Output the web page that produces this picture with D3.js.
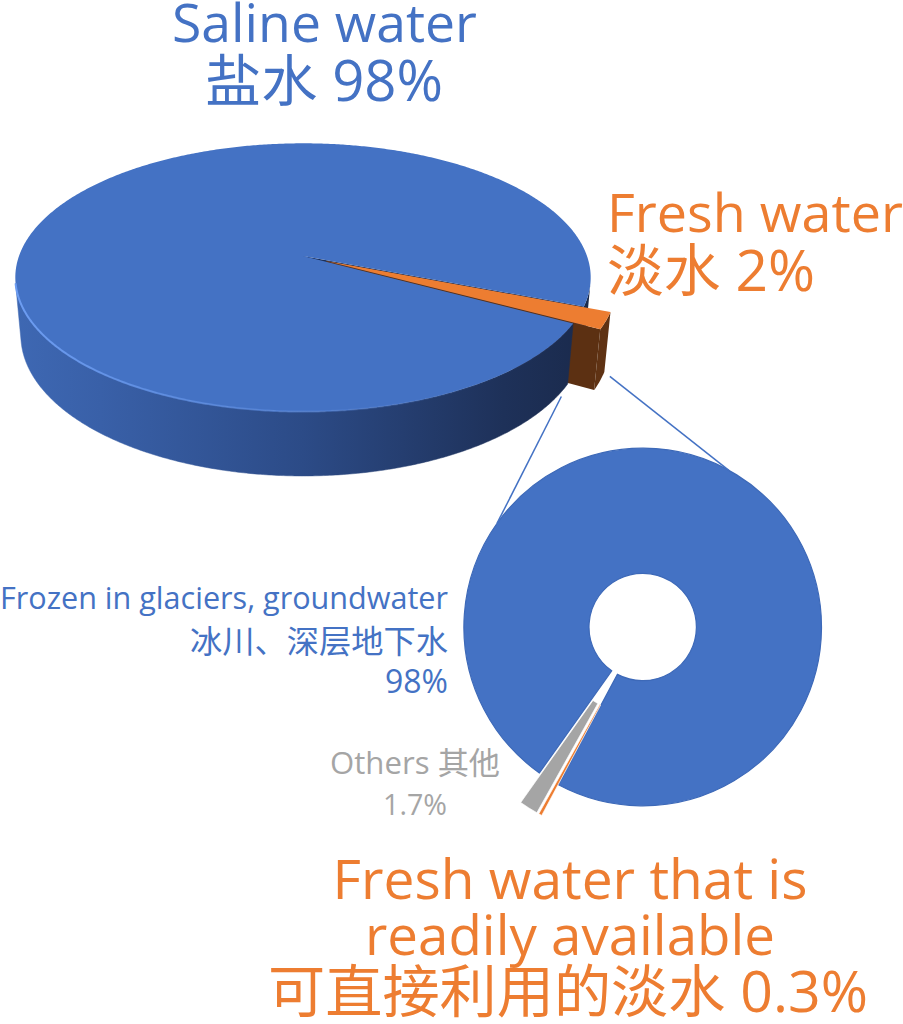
<!DOCTYPE html>
<html>
<head>
<meta charset="utf-8">
<script src="https://cdn.jsdelivr.net/npm/d3@7"></script>
<style>
  html, body { margin: 0; padding: 0; background: #ffffff; }
  svg { display: block; }
  text { font-family: "Open Sans", "Noto Sans CJK SC", sans-serif; font-weight: 400; }
</style>
</head>
<body>
<svg id="chart" width="903" height="1024"></svg>
<script>
// ---------------- data ----------------
const mainLabelsEN = ["Saline water", "Fresh water"];
const mainLabelsCN = ["盐水", "淡水"];
const mainValues   = [98, 2];
const mainColors   = ["#4472C4", "#ED7D31"];

const subLabelsEN  = ["Frozen in glaciers, groundwater", "Others", "Fresh water that is|readily available"];
const subLabelsCN  = ["冰川、深层地下水", "其他", "可直接利用的淡水"];
const subValues    = [98, 1.7, 0.3];
const subColors    = ["#4472C4", "#A5A5A5", "#ED7D31"];

// ---------------- layout ----------------
const rad = d => d * Math.PI / 180;
const svg = d3.select("#chart");
const defs = svg.append("defs");

// 3D pie camera (perspective)
const pie3d = { cx: 303, cy: 256, f: 1577, D: 5.553, tilt: 27.4, H: 0.2313, explode: 0.09, start: 118.5 };
const S = Math.sin(rad(pie3d.tilt)), C = Math.cos(rad(pie3d.tilt));
function proj(a, b, h) {
  const z = pie3d.D - b * C - h * S;
  const yc = -b * S + h * C;
  return [pie3d.cx + pie3d.f * a / z, pie3d.cy - pie3d.f * yc / z];
}
function pt(alpha, r, h, off) {
  return proj(off[0] + r * Math.sin(alpha), off[1] - r * Math.cos(alpha), h);
}
function arcPts(a0, a1, h, off) {
  const n = Math.max(2, Math.ceil(Math.abs(a1 - a0) / rad(0.5)));
  return d3.range(n + 1).map(i => pt(a0 + (a1 - a0) * i / n, 1, h, off));
}
const poly = d3.line();
const closed = pts => poly(pts) + "Z";

const mainArcs = d3.pie().sort(null)
  .startAngle(rad(pie3d.start)).endAngle(rad(pie3d.start + 360))(mainValues);

// side gradient
const sideGrad = defs.append("linearGradient").attr("id", "sideGrad")
  .attr("gradientUnits", "userSpaceOnUse").attr("x1", 14).attr("x2", 590).attr("y1", 0).attr("y2", 0);
[[0, "#3e68b3"], [0.15, "#3960a8"], [0.5, "#2c4b87"], [0.85, "#1e3159"], [1, "#1a2a4c"]]
  .forEach(([o, c]) => sideGrad.append("stop").attr("offset", o).attr("stop-color", c));
const rimGrad = defs.append("linearGradient").attr("id", "rimGrad")
  .attr("gradientUnits", "userSpaceOnUse").attr("x1", 14).attr("x2", 590).attr("y1", 0).attr("y2", 0);
[[0, "#6d9df2", 1], [0.45, "#5b8be0", 0.6], [0.8, "#4a78cc", 0.1], [1, "#4472C4", 0]]
  .forEach(([o, c, op]) => rimGrad.append("stop").attr("offset", o).attr("stop-color", c).attr("stop-opacity", op));

const vis = Math.asin(1 / (pie3d.D * C));
const visWin = [[Math.PI / 2 + vis, 1.5 * Math.PI - vis], [2.5 * Math.PI + vis, 3.5 * Math.PI - vis]];
function visibleRanges(a0, a1) {
  const out = [];
  visWin.forEach(([w0, w1]) => {
    const s = Math.max(a0, w0), e = Math.min(a1, w1);
    if (e > s) out.push([s, e]);
  });
  return out;
}

const blue = mainArcs[0], orange = mainArcs[1];
const noOff = [0, 0];
const oMid = (orange.startAngle + orange.endAngle) / 2;
const oOff = [pie3d.explode * Math.sin(oMid), -pie3d.explode * Math.cos(oMid)];
const g3 = svg.append("g").attr("class", "pie3d");

const blueRanges = visibleRanges(blue.startAngle, blue.endAngle);
// blue side piece behind the orange slice (near its end angle)
blueRanges.filter(r => r[0] > Math.PI * 2).forEach(([s, e]) => {
  g3.append("path").attr("d", closed(arcPts(s, e, 0, noOff).concat(arcPts(e, s, -pie3d.H, noOff))))
    .attr("fill", "url(#sideGrad)");
});
// blue end face (visible in the gap)
const bE = blue.endAngle;
g3.append("path").attr("d", closed([pt(bE, 0, 0, noOff), pt(bE, 1, 0, noOff), pt(bE, 1, -pie3d.H, noOff), pt(bE, 0, -pie3d.H, noOff)]))
  .attr("fill", "#1c2f57");
// orange outer side and end face
g3.append("path").attr("d", closed(arcPts(orange.startAngle, orange.endAngle, 0, oOff).concat(arcPts(orange.endAngle, orange.startAngle, -pie3d.H, oOff))))
  .attr("fill", "#5f3213");
const oE = orange.endAngle;
g3.append("path").attr("d", closed([pt(oE, 0, 0, oOff), pt(oE, 1, 0, oOff), pt(oE, 1, -pie3d.H, oOff), pt(oE, 0, -pie3d.H, oOff)]))
  .attr("fill", "#5c3012");
// blue front side
blueRanges.filter(r => r[0] < Math.PI * 2).forEach(([s, e]) => {
  g3.append("path").attr("d", closed(arcPts(s, e, 0, noOff).concat(arcPts(e, s, -pie3d.H, noOff))))
    .attr("fill", "url(#sideGrad)").attr("stroke", "url(#sideGrad)").attr("stroke-width", 0.5);
});
// blue top
g3.append("path").attr("d", closed([pt(0, 0, 0, noOff)].concat(arcPts(blue.startAngle, blue.endAngle, 0, noOff))))
  .attr("fill", mainColors[0]);
// rim highlight
const fr = blueRanges.filter(r => r[0] < Math.PI * 2)[0];
g3.append("path").attr("d", poly(arcPts(fr[0] + rad(4), fr[1], 0, noOff)))
  .attr("fill", "none").attr("stroke", "url(#rimGrad)").attr("stroke-width", 2);
// orange top
g3.append("path").attr("d", closed([pt(0, 0, 0, oOff)].concat(arcPts(orange.startAngle, orange.endAngle, 0, oOff))))
  .attr("fill", mainColors[1]);

// ---------------- doughnut ----------------
const donut = { cx: 642.7, cy: 627, r0: 53.7, r1: 178.8, explode: 35, start: 208.1 };
const subArcs = d3.pie().sort(null)
  .startAngle(rad(donut.start + 360)).endAngle(rad(donut.start))(subValues);
const arcGen = d3.arc().innerRadius(donut.r0).outerRadius(donut.r1);
const gd = svg.append("g").attr("transform", `translate(${donut.cx},${donut.cy})`);
gd.selectAll("path").data(subArcs).join("path")
  .attr("d", arcGen)
  .attr("transform", (d, i) => {
    if (i === 0) return null;
    const m = (d.startAngle + d.endAngle) / 2;
    return `translate(${donut.explode * Math.sin(m)},${-donut.explode * Math.cos(m)})`;
  })
  .attr("fill", (d, i) => subColors[i])
  .attr("stroke", (d, i) => i === 0 ? "#3d69b8" : "#ffffff")
  .attr("stroke-width", (d, i) => i === 0 ? 1.2 : 0.7);

// ---------------- connector lines ----------------
const connectors = [
  { from: pt(oE, 1, -pie3d.H, noOff), toAngle: 305.5, gap: 14 },
  { from: pt(orange.startAngle, 1, -pie3d.H, oOff), toAngle: 28.8, gap: 7 }
];
connectors.forEach(c => {
  const to = [donut.cx + donut.r1 * Math.sin(rad(c.toAngle)), donut.cy - donut.r1 * Math.cos(rad(c.toAngle))];
  const dx = to[0] - c.from[0], dy = to[1] - c.from[1], L = Math.hypot(dx, dy);
  const st = [c.from[0] + dx / L * c.gap, c.from[1] + dy / L * c.gap];
  svg.append("path").attr("d", poly([st, to])).attr("stroke", "#4472C4").attr("stroke-width", 1.5).attr("fill", "none");
});

// ---------------- labels ----------------
function label(x, y, str, anchor, color, targetW) {
  const t = svg.append("text").attr("x", x).attr("y", y).attr("text-anchor", anchor)
    .attr("fill", color).style("font-size", "40px").text(str);
  const w = t.node().getComputedTextLength();
  t.style("font-size", (40 * targetW / w).toFixed(2) + "px");
  return t;
}
// main pie labels
label(324.5, 42, mainLabelsEN[0], "middle", mainColors[0], 305);
label(324, 101, `${mainLabelsCN[0]} ${mainValues[0]}%`, "middle", mainColors[0], 238);
label(607, 232, mainLabelsEN[1], "start", mainColors[1], 296);
label(607, 291, `${mainLabelsCN[1]} ${mainValues[1]}%`, "start", mainColors[1], 208);
// doughnut labels
label(448, 609, subLabelsEN[0], "end", subColors[0], 448);
label(448, 653, subLabelsCN[0], "end", subColors[0], 258);
label(448, 693, `${subValues[0]}%`, "end", subColors[0], 63);
label(415, 774, `${subLabelsEN[1]} ${subLabelsCN[1]}`, "middle", subColors[1], 170);
label(415, 815, `${subValues[1]}%`, "middle", subColors[1], 64);
const l3 = subLabelsEN[2].split("|");
label(570, 899, l3[0], "middle", subColors[2], 475);
label(570, 955, l3[1], "middle", subColors[2], 410);
label(568, 1012, `${subLabelsCN[2]} ${subValues[2]}%`, "middle", subColors[2], 600);
</script>
</body>
</html>
